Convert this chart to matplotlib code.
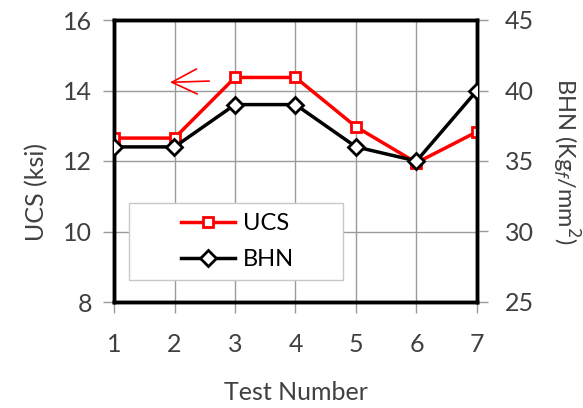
import matplotlib
matplotlib.use("Agg")
import matplotlib.pyplot as plt
from matplotlib.patches import Rectangle

plt.rcParams['font.family'] = ['Lato', 'DejaVu Sans']

tests = [1, 2, 3, 4, 5, 6, 7]
ucs = [12.65, 12.65, 14.37, 14.37, 12.97, 11.95, 12.83]
bhn = [36, 36, 39, 39, 36, 35, 40]

fig = plt.figure(figsize=(5.83, 4.08), dpi=100)
ax = fig.add_axes([114/583, 1-302/408, 363/583, 282/408])
ax2 = ax.twinx()

ax.plot(tests, ucs, color='red', lw=2.5, marker='s', ms=7, mfc='white',
        mec='red', mew=2, label='UCS', zorder=3)
ax2.plot(tests, bhn, color='black', lw=2.5, marker='D', ms=8, mfc='white',
         mec='black', mew=2, label='BHN', zorder=3)

ax.set_xlim(1, 7)
ax.set_ylim(8, 16)
ax2.set_ylim(25, 45)
ax.set_xticks(tests)
ax.set_yticks([8, 10, 12, 14, 16])
ax2.set_yticks([25, 30, 35, 40, 45])
ax.grid(True, color='#9a9a9a', lw=1)
ax.set_axisbelow(True)

txt = '#404040'
for a in (ax, ax2):
    for s in a.spines.values():
        s.set_linewidth(2.5)
        s.set_color('black')
    a.tick_params(labelsize=18, color='#9a9a9a', length=8, width=1,
                  labelcolor=txt)
ax.tick_params(axis='x', pad=14)
ax.tick_params(axis='y', pad=8)
ax2.tick_params(axis='y', pad=12)

ax.set_xlabel('Test Number', fontsize=18, color=txt, labelpad=18)
ax.set_ylabel('UCS (ksi)', fontsize=18, color=txt)
ax.yaxis.set_label_coords(-0.182, 0.39)
ax2.set_ylabel('BHN (Kg$_f$/mm$^2$)', fontsize=17, color=txt,
               rotation=-90, labelpad=34)

# arrow pointing to the left axis
ax.annotate('', xy=(1.88, 14.23), xytext=(2.62, 14.27),
            arrowprops=dict(arrowstyle='->, head_length=0.5, head_width=0.25',
                            color='red', lw=1.2, mutation_scale=36))

# legend box drawn separately so the entries sit in its middle
ax2.add_patch(Rectangle((0.041, 0.078), 0.59, 0.273, transform=ax2.transAxes,
                        facecolor='white', edgecolor='#c8c8c8', lw=1,
                        zorder=4))
h1, l1 = ax.get_legend_handles_labels()
h2, l2 = ax2.get_legend_handles_labels()
leg = ax2.legend(h1 + h2, l1 + l2, loc='center',
                 bbox_to_anchor=(0.34, 0.2145), fontsize=17, frameon=False,
                 borderpad=0, handlelength=2.3, handletextpad=0.3,
                 labelspacing=0.65, borderaxespad=0)
leg.set_zorder(5)

fig.savefig('out.png', dpi=100)
